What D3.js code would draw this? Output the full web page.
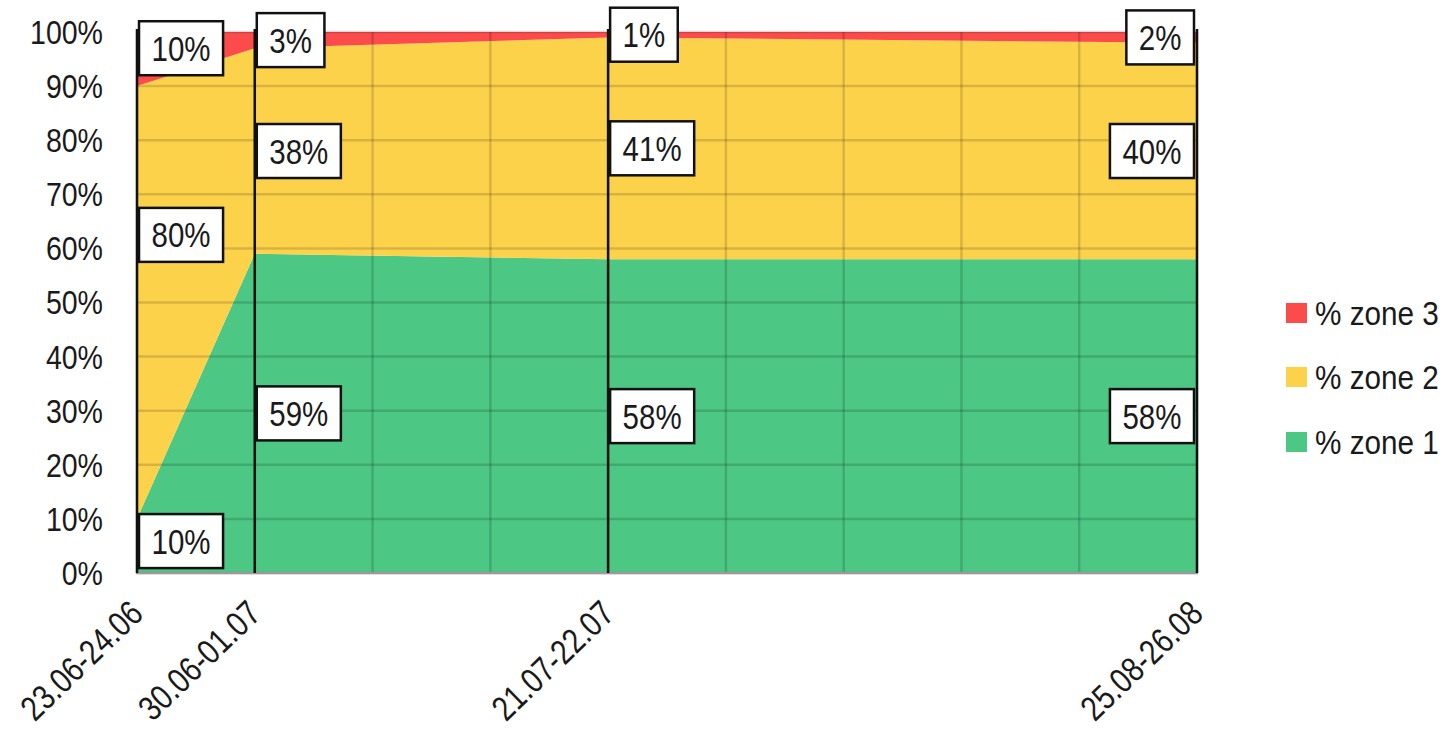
<!DOCTYPE html>
<html>
<head>
<meta charset="utf-8">
<script src="https://cdn.jsdelivr.net/npm/d3@7"></script>
<style>
  body { margin: 0; background: #fff; }
  text { font-family: "Liberation Sans", Arial, sans-serif; fill: #1a1a1a; }
</style>
</head>
<body>
<svg id="chart" width="1445" height="734"></svg>
<script>
// data
const periods = ["23.06-24.06", "30.06-01.07", "21.07-22.07", "25.08-26.08"];
const startDates = ["2024-06-23", "2024-06-30", "2024-07-21", "2024-08-25"];
const zone1 = [10, 59, 58, 58];
const zone2 = [80, 38, 41, 40];
const zone3 = [10, 3, 1, 2];
const seriesKeys = ["z1", "z2", "z3"];
const seriesNames = ["% zone 1", "% zone 2", "% zone 3"];
const seriesColors = ["#4cc784", "#fdd24b", "#fb4b4b"];
const yTicks = d3.range(0, 101, 10);

const parse = d3.timeParse("%Y-%m-%d");
const rows = periods.map((p, i) => ({
  label: p, date: parse(startDates[i]), z1: zone1[i], z2: zone2[i], z3: zone3[i]
}));

const svg = d3.select("#chart");
const x = d3.scaleTime().domain(d3.extent(rows, d => d.date)).range([137, 1197]);
const y = d3.scaleLinear().domain([0, 100]).range([573, 32]);

const stacked = d3.stack().keys(seriesKeys)(rows);

// narrow-looking text
function sqText(g, px, py, str, size, sx, anchor, rot = 0) {
  return g.append("text")
    .attr("transform", `translate(${px},${py}) rotate(${rot}) scale(${sx},1)`)
    .attr("text-anchor", anchor)
    .attr("font-size", size)
    .text(str);
}

const area = d3.area()
  .x(d => x(d.data.date))
  .y0(d => y(d[0]))
  .y1(d => y(d[1]));

svg.append("g").selectAll("path").data(stacked).join("path")
  .attr("fill", (d, i) => seriesColors[i])
  .attr("d", area);

// grid on top of the areas
const grid = svg.append("g").attr("stroke", "rgba(0,0,0,0.15)").attr("stroke-width", 2.5);
grid.selectAll(".h").data(yTicks).join("line")
  .attr("x1", x.range()[0]).attr("x2", x.range()[1])
  .attr("y1", d => y(d)).attr("y2", d => y(d));
grid.selectAll(".v").data(x.ticks(d3.timeWeek)).join("line")
  .attr("x1", d => x(d)).attr("x2", d => x(d))
  .attr("y1", y(0)).attr("y2", y(100));

// bottom axis line
svg.append("line")
  .attr("x1", x.range()[0] - 1).attr("x2", x.range()[1] + 1)
  .attr("y1", y(0)).attr("y2", y(0))
  .attr("stroke", "#9a9a9a").attr("stroke-width", 2.5);

// black lines at data points
svg.append("g").selectAll("line").data(rows).join("line")
  .attr("x1", d => x(d.date)).attr("x2", d => x(d.date))
  .attr("y1", y(100) - 3).attr("y2", y(0))
  .attr("stroke", "#111").attr("stroke-width", 2.5);

// y axis labels
const yg = svg.append("g");
yTicks.forEach(t => {
  sqText(yg, 103, y(t), t + "%", 34, 0.84, "end").attr("dy", "0.35em");
});

// x axis labels
const xg = svg.append("g");
rows.forEach(r => {
  sqText(xg, x(r.date) + 8, 616, r.label, 35, 0.82, "end", -44);
});

// value labels (a couple nudged like the original)
const labelNudge = { "1-0": 12.5, "2-0": 2, "0-0": 0.9 };
const lg = svg.append("g");
stacked.forEach((s, si) => {
  s.forEach((d, j) => {
    const val = d[1] - d[0];
    const mid = (d[0] + d[1]) / 2 + (labelNudge[si + "-" + j] || 0);
    const cy = y(mid);
    const txt = val + "%";
    const t = sqText(lg, 0, 0, txt, 36, 0.82, "middle").attr("dy", "0.35em");
    const tw = t.node().getComputedTextLength() * 0.82;
    const bw = tw + 25, bh = 54;
    const px = x(d.data.date);
    const left = j < rows.length - 1 ? px + 2 : px - 3 - bw;
    lg.insert("rect", () => t.node())
      .attr("x", left).attr("y", cy - bh / 2)
      .attr("width", bw).attr("height", bh)
      .attr("fill", "#fff").attr("stroke", "#111").attr("stroke-width", 2.5);
    t.attr("transform", `translate(${left + bw / 2},${cy}) scale(0.82,1)`);
  });
});

// legend
const leg = svg.append("g");
const legendY = [442, 377, 313];
seriesNames.forEach((n, i) => {
  leg.append("rect")
    .attr("x", 1286).attr("y", legendY[i] - 10)
    .attr("width", 21).attr("height", 20)
    .attr("fill", seriesColors[i]);
  sqText(leg, 1315, legendY[i], n, 33, 0.9, "start").attr("dy", "0.35em");
});
</script>
</body>
</html>
